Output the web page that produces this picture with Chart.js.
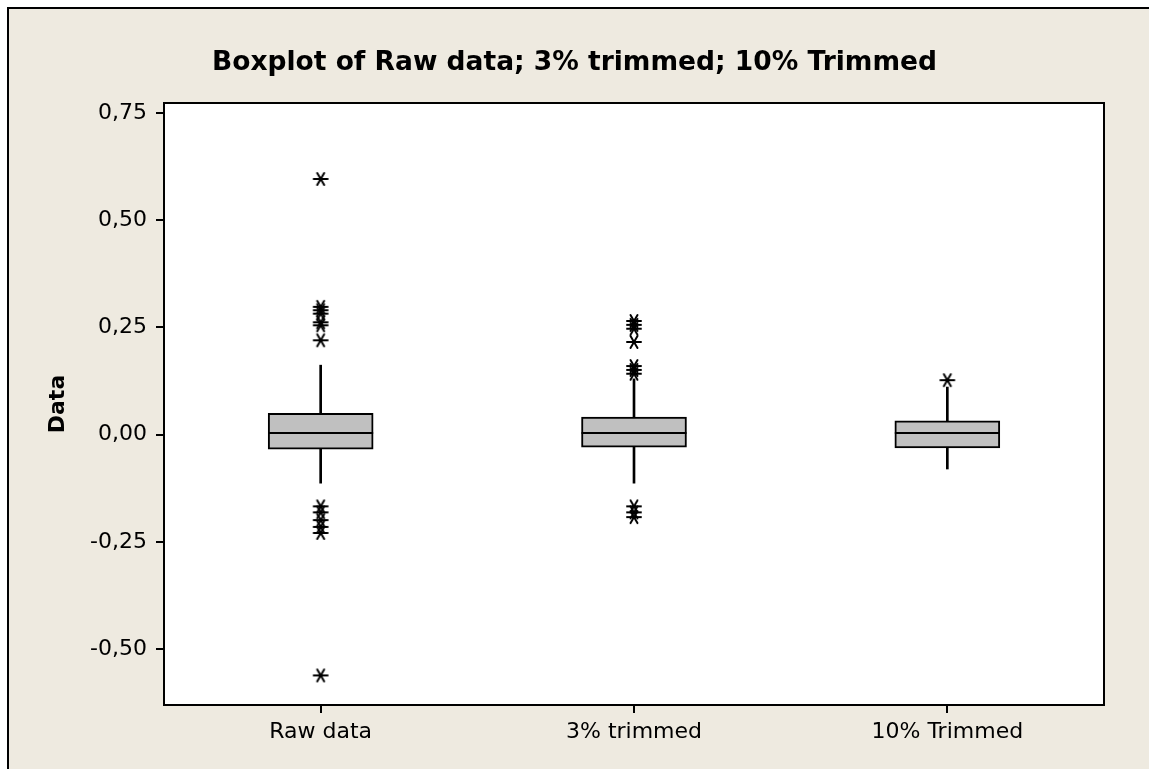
<!DOCTYPE html>
<html>
<head>
<meta charset="utf-8">
<title>Boxplot</title>
<script src="https://cdn.jsdelivr.net/npm/chart.js@4.4.1/dist/chart.umd.min.js"></script>
<style>
  html, body { margin: 0; padding: 0; background: #fff; overflow: hidden; width: 1149px; height: 769px; }
  #frame {
    position: absolute; left: 7px; top: 7px; width: 1180px; height: 800px;
    background: #eeeae0; border-left: 2px solid #000; border-top: 2px solid #000;
  }
  #wrap { position: absolute; left: 0; top: 0; width: 1149px; height: 769px; }
</style>
</head>
<body>
<div id="frame"></div>
<div id="wrap"><canvas id="boxplot"></canvas></div>
<script>
const groups = ['Raw data', '3% trimmed', '10% Trimmed'];

// five-number summaries per group
const whiskerLow = [-0.113, -0.113, -0.080];
const quart1 = [-0.034, -0.029, -0.031];
const medians = [0.004, 0.004, 0.004];
const quart3 = [0.050, 0.041, 0.032];
const whiskerHigh = [0.162, 0.130, 0.111];

// outliers (asterisks)
const outRaw = [0.596, 0.298, 0.290, 0.282, 0.262, 0.255, 0.220, -0.167, -0.181, -0.199, -0.215, -0.229, -0.561];
const out3 = [0.265, 0.256, 0.247, 0.216, 0.160, 0.151, 0.142, -0.167, -0.181, -0.192];
const out10 = [0.127];

const yTicks = [-0.5, -0.25, 0, 0.25, 0.5, 0.75];

const outlierPoints = []
  .concat(outRaw.map(v => ({ x: groups[0], y: v })))
  .concat(out3.map(v => ({ x: groups[1], y: v })))
  .concat(out10.map(v => ({ x: groups[2], y: v })));

// minitab style asterisk
function makeStar() {
  const c = document.createElement('canvas');
  c.width = 18; c.height = 18;
  const g = c.getContext('2d');
  g.strokeStyle = '#000';
  g.lineWidth = 2;
  g.lineCap = 'round';
  g.beginPath();
  for (let a = 0; a < 3; a++) {
    const ang = a * Math.PI / 3;
    const dx = Math.cos(ang) * 7, dy = Math.sin(ang) * 6.8;
    g.moveTo(9 - dx, 9 - dy);
    g.lineTo(9 + dx, 9 + dy);
  }
  g.stroke();
  return c;
}

const plotFrame = {
  id: 'plotFrame',
  beforeDatasetsDraw(chart) {
    const a = chart.chartArea, ctx = chart.ctx;
    ctx.save();
    ctx.fillStyle = '#fff';
    ctx.fillRect(a.left, a.top, a.right - a.left, a.bottom - a.top);
    ctx.restore();
  },
  afterDatasetsDraw(chart) {
    const a = chart.chartArea, ctx = chart.ctx;
    const x = chart.scales.x, y = chart.scales.y;
    ctx.save();
    // median lines
    ctx.strokeStyle = '#000';
    ctx.lineWidth = 2;
    medians.forEach((m, i) => {
      const cx = x.getPixelForValue(i);
      const py = y.getPixelForValue(m);
      ctx.beginPath();
      ctx.moveTo(cx - 52.5, py);
      ctx.lineTo(cx + 52.5, py);
      ctx.stroke();
    });
    ctx.lineWidth = 2;
    ctx.strokeRect(a.left, a.top, a.right - a.left, a.bottom - a.top);
    ctx.restore();
  }
};

new Chart(document.getElementById('boxplot'), {
  data: {
    labels: groups,
    datasets: [
      {
        type: 'bar',
        data: groups.map((g, i) => [quart3[i], whiskerHigh[i]]),
        backgroundColor: '#000',
        barThickness: 2,
        grouped: false,
        order: 3
      },
      {
        type: 'bar',
        data: groups.map((g, i) => [whiskerLow[i], quart1[i]]),
        backgroundColor: '#000',
        barThickness: 2,
        grouped: false,
        order: 3
      },
      {
        type: 'bar',
        data: groups.map((g, i) => [quart1[i], quart3[i]]),
        backgroundColor: '#c0c0c0',
        borderColor: '#000',
        borderWidth: 2,
        borderSkipped: false,
        barThickness: 105,
        grouped: false,
        order: 2
      },
      {
        type: 'line',
        data: outlierPoints,
        showLine: false,
        pointStyle: makeStar(),
        order: 1
      }
    ]
  },
  options: {
    responsive: true,
    maintainAspectRatio: false,
    animation: false,
    layout: { padding: { left: 45, right: 45, top: 0, bottom: 0 } },
    plugins: {
      legend: { display: false },
      tooltip: { enabled: false },
      title: {
        display: true,
        text: 'Boxplot of Raw data; 3% trimmed; 10% Trimmed',
        color: '#000',
        font: { family: 'DejaVu Sans', size: 26.5, weight: 'bold' },
        padding: { top: 47, bottom: 24.2 }
      }
    },
    scales: {
      x: {
        type: 'category',
        offset: true,
        grid: { display: true, drawOnChartArea: false, offset: false, color: '#000', tickLength: 8, lineWidth: 2 },
        border: { display: true, color: '#000', width: 2 },
        ticks: { color: '#000', padding: 6, font: { family: 'DejaVu Sans', size: 22 } },
        afterFit(s) { s.height = 64; }
      },
      y: {
        min: -0.63,
        max: 0.773,
        grid: { display: true, drawOnChartArea: false, color: '#000', tickLength: 8, lineWidth: 2 },
        border: { display: true, color: '#000', width: 2 },
        ticks: {
          color: '#000',
          padding: 9,
          font: { family: 'DejaVu Sans', size: 22 },
          callback: v => v.toFixed(2).replace('.', ',')
        },
        afterBuildTicks(s) { s.ticks = yTicks.map(v => ({ value: v })); },
        afterFit(s) { s.width = 119; },
        title: {
          display: true,
          text: 'Data',
          color: '#000',
          padding: { top: 0, bottom: 0 },
          font: { family: 'DejaVu Sans', size: 22, weight: 'bold' }
        }
      }
    }
  },
  plugins: [plotFrame]
});
</script>
</body>
</html>
